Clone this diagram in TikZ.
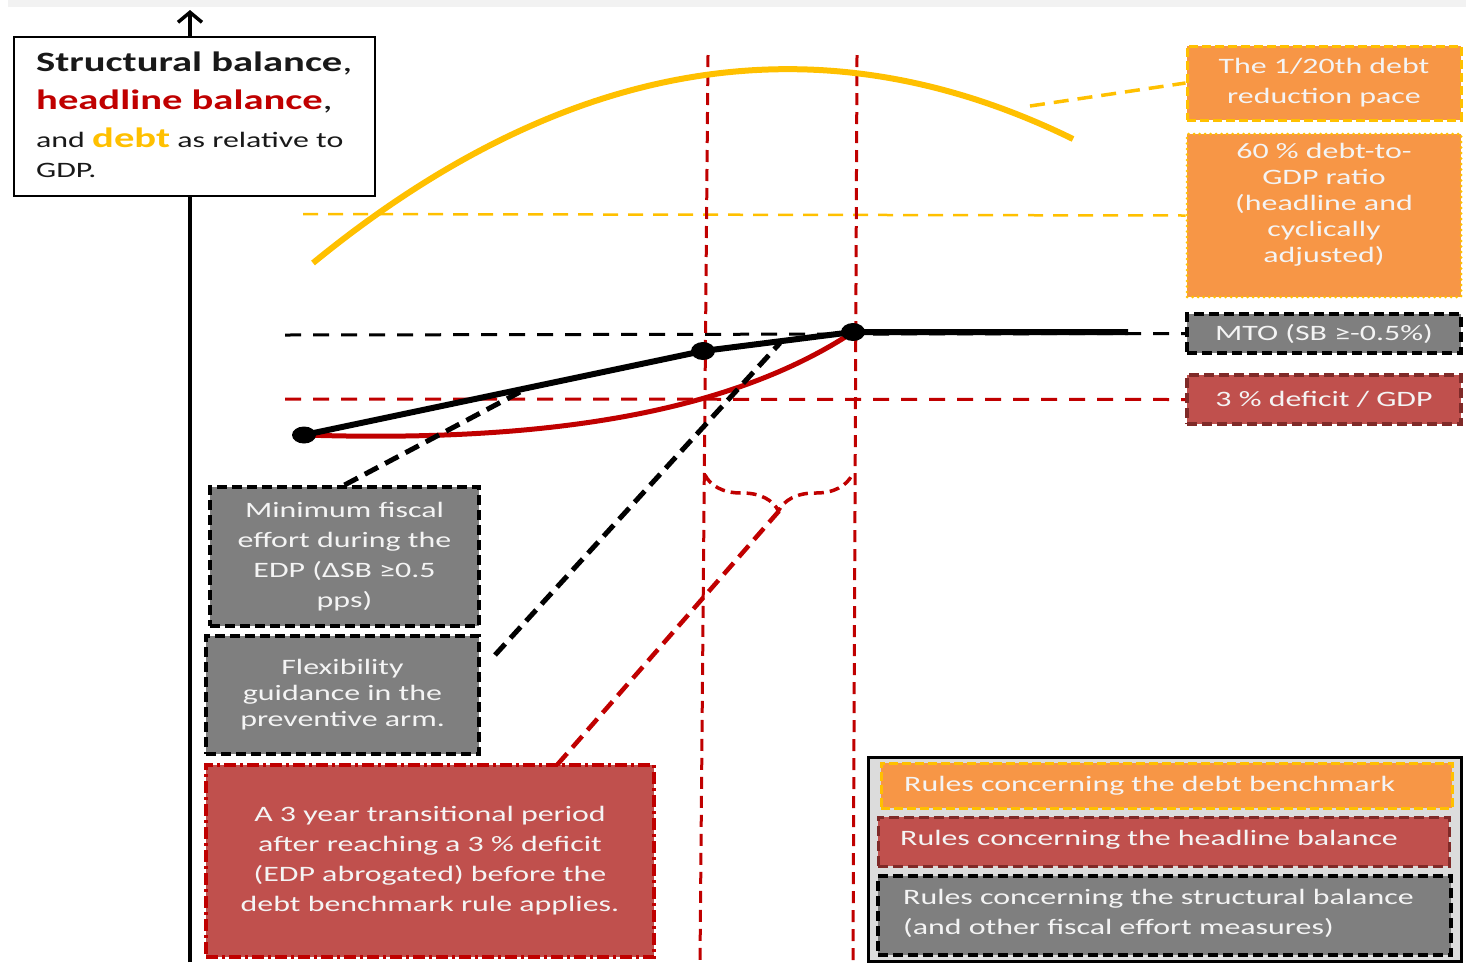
\documentclass[tikz,border=0pt]{standalone}
\usepackage{fontspec}
\setmainfont{Carlito}[FakeStretch=1.45]
\usetikzlibrary{decorations.pathreplacing,arrows.meta}
\definecolor{cyel}{HTML}{FFC000}
\definecolor{cora}{HTML}{F79646}
\definecolor{cred}{HTML}{C00000}
\definecolor{cbred}{HTML}{C0504D}
\definecolor{cgray}{HTML}{7F7F7F}
\definecolor{cdkred}{HTML}{7F2A28}
\definecolor{ctxt}{HTML}{F4F4F4}
\definecolor{cband}{HTML}{F2F2F2}
\definecolor{clgbg}{HTML}{DCDCDC}
\tikzset{
 bx/.style={rectangle, inner sep=0, align=center, text=ctxt, font=\fontsize{22}{30}\selectfont},
 orbox/.style={bx, fill=cora, draw=cyel, line width=3, dash pattern=on 9 off 4},
 ordot/.style={bx, fill=cora, draw=cyel, line width=3, line cap=round, dash pattern=on 0 off 5.5},
 grbox/.style={bx, fill=cgray, draw=black, line width=4, dash pattern=on 10 off 5},
 rdbox/.style={bx, fill=cbred, draw=cdkred, line width=3.5, dash pattern=on 10 off 5},
 trbox/.style={bx, fill=cbred, draw=cred, line width=4, dash pattern=on 12 off 4 on 3 off 4},
 lgtext/.style={text=ctxt, font=\fontsize{22}{30}\selectfont, inner sep=0, align=left, anchor=west},
 ttext/.style={anchor=base west, inner sep=0},
 hdash/.style={line width=3, dash pattern=on 16 off 12},
 vdash/.style={cred, line width=3, dash pattern=on 12 off 7},
 thickdash/.style={line width=5, dash pattern=on 15 off 8},
}
\begin{document}
\begin{tikzpicture}[x=1pt,y=-1pt]
\useasboundingbox (0,0) rectangle (1466,962);
\fill[cband] (8,0) rectangle (1466,7);
% axis
\coordinate (axb) at (190,962);
\coordinate (axt) at (190,10);
\draw[line width=3.5, -{Straight Barb[length=10,width=24]}] (axb) -- (axt);
% title box
\node[draw=black, fill=white, line width=1.5, minimum width=361, minimum height=159, inner sep=0] (title) at (194.5,116.5) {};
\node[ttext, font=\fontsize{28}{34}\selectfont\bfseries, text=black!90] (t1) at (36,71) {Structural balance{\mdseries,}};
\node[ttext, font=\fontsize{28}{34}\selectfont\bfseries, text=cred] (t2) at (36,109) {headline balance{\mdseries\color{black!90},}};
\node[ttext, font=\fontsize{22}{30}\selectfont, text=black!90] (t3) at (36,147) {and {\fontsize{28}{34}\selectfont\bfseries\color{cyel}debt} as relative to};
\node[ttext, font=\fontsize{22}{30}\selectfont, text=black!90] (t4) at (36,177) {GDP.};
% right boxes
\node[orbox, minimum width=274, minimum height=74] (o1) at (1324,83) {The 1/20th debt\\reduction pace};
\node[ordot, minimum width=274, minimum height=163] (o2) at (1324,215.5) {};
\node[bx, font=\fontsize{22}{26}\selectfont] (o2t) at (1324,205) {60 \% debt-to-\\GDP ratio\\(headline and\\cyclically\\adjusted)};
\node[grbox, minimum width=274, minimum height=39] (mto) at (1324,333.5) {MTO (SB ≥-0.5\%)};
\node[rdbox, minimum width=274, minimum height=49] (def3) at (1324,399.5) {3 \% deficit / GDP};
% left boxes
\node[grbox, minimum width=269, minimum height=139] (minfe) at (344.5,556.5) {Minimum fiscal\\effort during the\\EDP (ΔSB ≥0.5\\pps)};
\node[grbox, minimum width=273, minimum height=118, font=\fontsize{22}{26}\selectfont] (flex) at (342.5,695) {Flexibility\\guidance in the\\preventive arm.};
\node[trbox, minimum width=448, minimum height=192] (trans) at (430,861) {A 3 year transitional period\\after reaching a 3 \% deficit\\(EDP abrogated) before the\\debt benchmark rule applies.};
% horizontal reference lines
\coordinate (yl) at (303,214);
\draw[cyel, line width=2.5, dash pattern=on 15 off 10] (yl) -- (o2.west);
\coordinate (bl) at (285,335);
\draw[hdash] (bl) -- (mto.west);
\coordinate (rl) at (285,399);
\draw[cred, hdash] (rl) -- (def3.west);
% vertical red lines
\coordinate (v1t) at (708,55);
\coordinate (v1b) at (700,962);
\coordinate (v2t) at (857,55);
\coordinate (v2b) at (853,962);
\draw[vdash] (v1t) -- (v1b);
\draw[vdash] (v2t) -- (v2b);
% debt curve
\coordinate (y0) at (313,263);
\coordinate (y1) at (1073,139);
\draw[cyel, line width=6] (y0) .. controls (566,56) and (820,15) .. (y1);
\coordinate (yc) at (1030,106);
\draw[cyel, line width=3.5, dash pattern=on 15 off 9] (yc) -- (o1.west);
% headline balance
\coordinate (p1) at (304,435);
\coordinate (p2) at (703,351);
\coordinate (p3) at (853,332);
\coordinate (p4) at (1128,332);
\draw[cred, line width=5] (p1) .. controls (520,442) and (720,420) .. (p3);
% structural balance
\draw[line width=6] (p1) -- (p2) -- (p3) -- (p4);
\fill (p1) ellipse [x radius=12, y radius=8.5];
\fill (p2) ellipse [x radius=12, y radius=9];
\fill (p3) ellipse [x radius=12, y radius=9];
% connectors
\coordinate (c1) at (520,392);
\draw[thickdash] (minfe.north) -- (c1);
\coordinate (f1) at (495,655);
\coordinate (f2) at (780,343);
\draw[thickdash] (f1) -- (f2);
\draw[cred, line width=3.5, dash pattern=on 10 off 6, decorate, decoration={brace, amplitude=36, mirror}] (705,475) -- (852,475);
\coordinate (bt) at (779,511);
\coordinate (tt) at (557,765);
\draw[cred, thickdash, line width=4.5] (bt) -- (tt);
% legend
\node[draw=black, fill=clgbg, line width=3, minimum width=593, minimum height=204, inner sep=0] (leg) at (1164.5,859) {};
\node[orbox, minimum width=571, minimum height=45] (l1) at (1166.5,785.5) {};
\node[rdbox, minimum width=571, minimum height=49, line width=3] (l2) at (1163.5,841.5) {};
\node[grbox, minimum width=573, minimum height=79, line width=3.5] (l3) at (1164.5,915.5) {};
\node[lgtext] (l1t) at (904,785.5) {Rules concerning the debt benchmark};
\node[lgtext] (l2t) at (900,840) {Rules concerning the headline balance};
\node[lgtext] (l3t) at (903,913) {Rules concerning the structural balance\\(and other fiscal effort measures)};
\end{tikzpicture}
\end{document}
